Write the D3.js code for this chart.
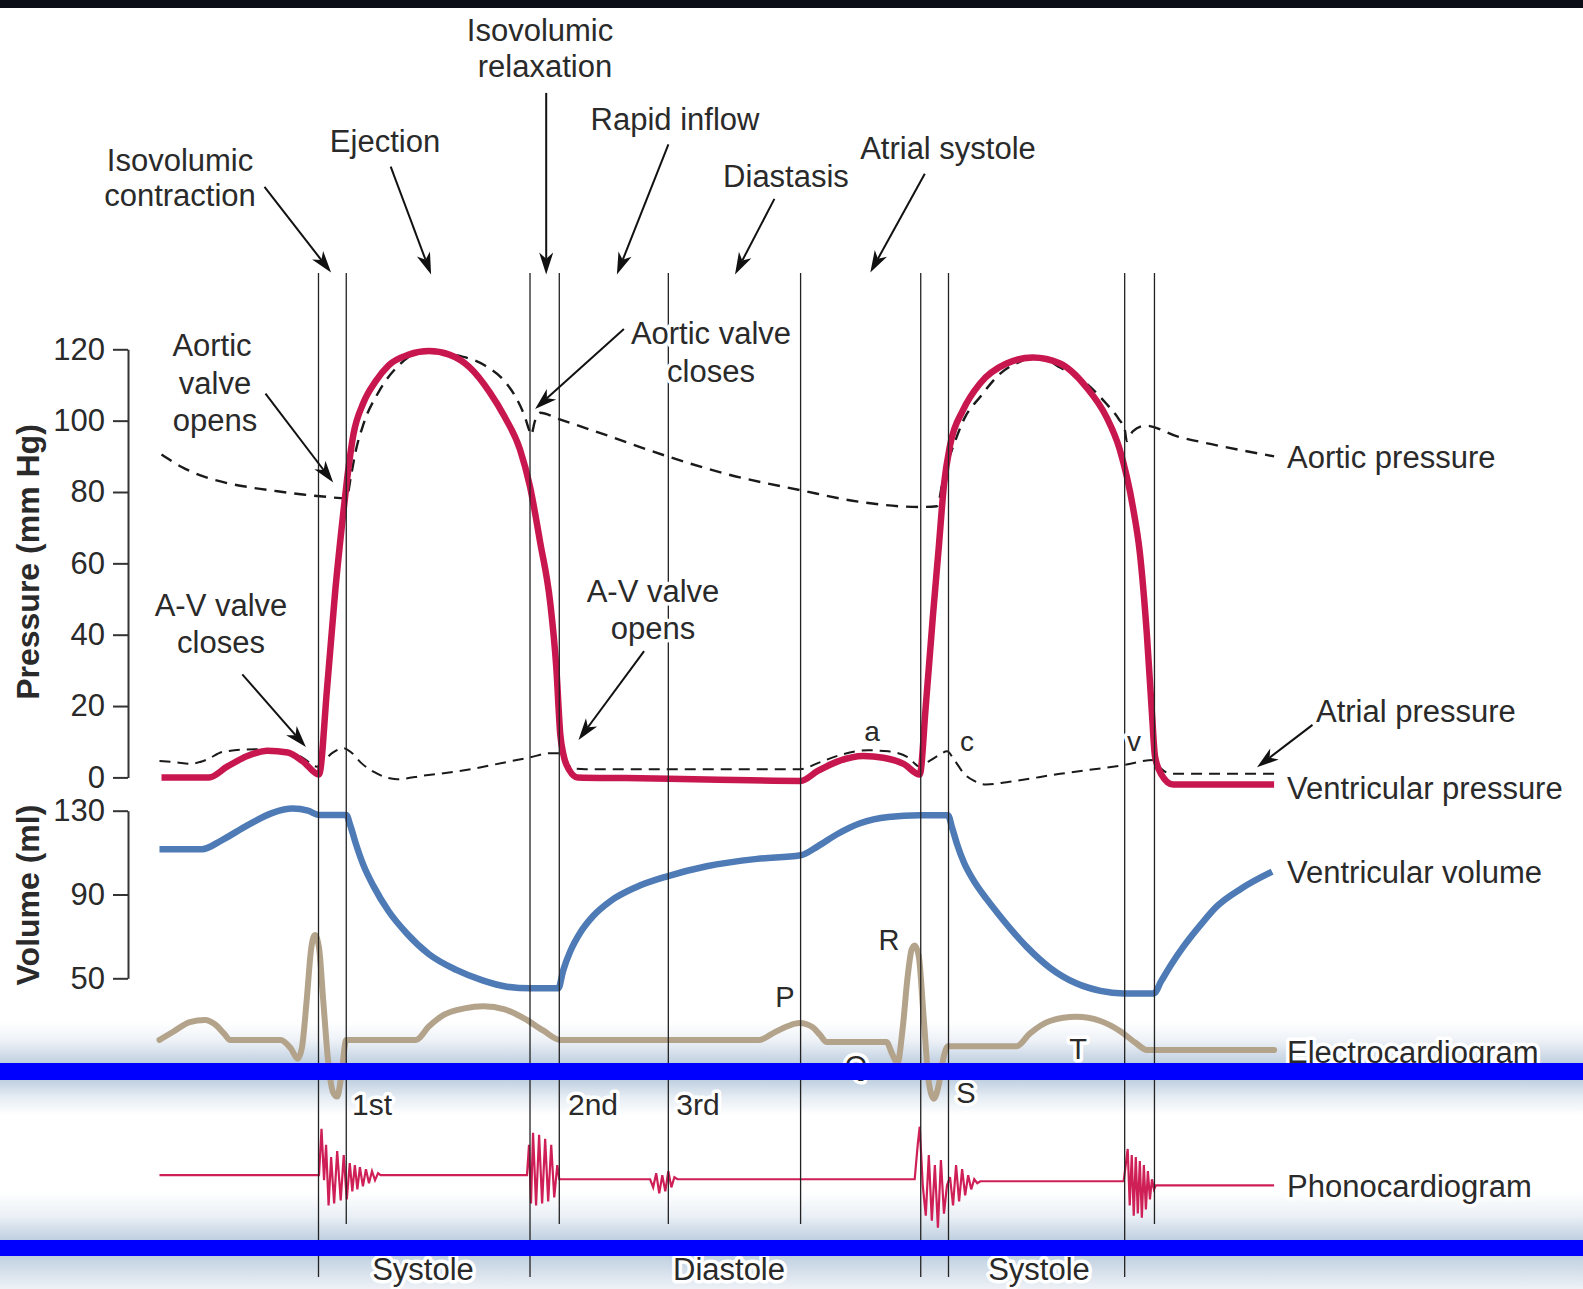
<!DOCTYPE html>
<html><head><meta charset="utf-8">
<script src="https://cdn.jsdelivr.net/npm/d3@7"></script>
<style>
body{margin:0;background:#fff;}
svg{display:block;}
text{font-family:"Liberation Sans",Arial,Helvetica,sans-serif;fill:#2a2a2a;}
</style>
</head><body>
<svg id="c" width="1583" height="1289"></svg>
<script>
// ---------- DATA (time in ms-like units from left edge of traces) ----------
const eventTimes = [155.5, 183, 365, 394, 502, 633, 752, 779.5, 954, 983.5];
const eventLong  = [true, false, true, false, false, false, true, true, true, false];

const pressureTicks = [0, 20, 40, 60, 80, 100, 120];
const volumeTicks = [50, 90, 130];

// [time, mmHg]
const ventricularPressure = [
 [0,0],[47,0],[65,3],[85,6],[105,7.5],[125,7],[140,4.5],[156,0.8],
 [164,25],[172,52],[180,74],[184,84],[190,96],[200,105],[212,111],[225,115.5],[245,118.5],[265,119.5],
 [285,118.5],[305,115],[325,108],[340,101],[355,92],[365,81.5],[375,66],[385,49],[391,31],[395,12],[398,6.5],[404,2],[412,0],
 [460,-0.2],[540,-0.6],[633,-1],
 [650,1.8],[670,4.5],[695,6],[715,5.5],[735,3.8],[751,0.8],
 [757,20],[764,45],[770,65],[775,82],[781,93],[794,103],[811,110.5],[837,116],[863,117.7],[890,116],[916,109.4],[936,101],
 [949,92],[962,76],[969,63],[976,40],[981,18],[984,6],[990,1],[1002,-2],[1102,-2]
];
const aorticPressure = [
 [0,90.5],[20,87],[40,84.5],[65,82.5],[90,81.2],[115,80.2],[140,79.3],[165,78.6],[183,78.2],
 [188,85],[192,91],[200,99],[215,108],[235,115.5],[260,119.5],[290,118.5],[320,115.5],[340,111],[352,106],[360,101],[364,97.5],
 [366,96],[370,100],[375,102.2],[393,100.5],[440,96],[501,90],[560,85],[633,80.5],[690,77.3],[751,75.8],[768,76],
 [775,85],[785,93.4],[795,100.5],[811,106.7],[830,113],[850,116.5],[870,118],[888,115.2],[910,111.8],[935,105],[948,100.5],
 [954,97.6],[956,94.3],[962,97],[975,98.6],[1006,95.6],[1040,93.4],[1102,90]
];
const atrialPressure = [
 [-2,4.6],[15,4.2],[28,3.8],[45,5],[61,7.2],[94,7.9],[124,7.2],[140,5.5],[154,3],
 [160,4.5],[170,7],[180,8.2],[188,7],[198,4],[210,1.6],[233,-0.5],[260,0.5],[300,2],[340,4.2],[365,5.6],[385,6.8],[394,6.8],
 [400,4.5],[408,2.5],[420,2.3],[633,2.3],[650,4],[675,6.5],[700,7.6],[720,7.3],[740,5.5],[751,3],
 [760,4.5],[770,6.2],[778,7.3],[785,5],[795,1],[805,-1],[817,-2],[840,-1.2],[890,1],[954,3.5],[983,4.9],
 [990,2.5],[1000,1],[1102,1]
];
// [time, ml]
const ventricularVolume = [
 [-2,111.6],[40,111.6],[60,116],[85,123],[110,129],[130,131],[145,130],[156,128],[183,128],
 [187,123],[192,115],[200,104],[210,94],[225,82],[243,71.4],[265,61.5],[292,54],[318,49],[342,46],[365,45.2],[393,45.2],
 [398,54],[405,63],[415,72],[428,80],[445,87],[470,93.5],[501,98.7],[540,103.5],[590,107],[633,108.7],
 [650,113],[670,119],[692,124],[720,127],[751,127.8],[779,127.8],
 [783,122],[788,114],[795,105],[804,97],[817,88],[830,80],[857,65],[880,55],[906,47.6],[930,44],[953,42.8],[983,42.8],
 [990,48.5],[1000,56.5],[1012,65],[1030,76],[1045,84.2],[1070,93],[1100,100.9]
];
// [time, relative ECG amplitude]
const ecg = [
 [-2,0],[12,8],[28,17],[43,19],[54,14],[62,6],[68,0],[118,0],[128,-8],[135,-18],[139,-8],[144,40],[148,85],[152,100],
 [156,88],[160,40],[165,-20],[170,-50],[174,-54],[178,-35],[183,0],[252,0],[265,13],[280,24],[300,30],[319,32],[340,29],
 [360,20],[378,9],[395,0],[592,0],[605,6],[620,13],[632,16],[645,12],[652,5],[659,-2],[718,-2],[724,-14],[729,-22],
 [734,10],[739,60],[743,86],[746,90],[750,80],[755,20],[760,-40],[765,-56],[770,-42],[775,-15],[779,-6],[847,-6],
 [860,6],[880,18],[906,22],[930,18],[950,8],[965,-3],[976,-9.6],[1102,-9.6]
];
// [time, relative sound amplitude]
const phono = [
 [-2,0],[156,0],[158.5,46],[161,-5],[163,30],[165.5,-30],[168,18],[171,-28],[174,24],[177.5,-25],[180.5,20],[183.5,-24],
 [186.5,12],[189,-16],[191.5,10],[194,-14],[196.5,8],[199.5,-11],[202.5,6],[205.5,-8],[208.5,4],[211.5,-5],[214.5,2],[217,0],
 [362,0],[364,30],[366,-28],[368,42],[371,-30],[374,40],[377,-28],[380,36],[383,-26],[386,30],[389,-22],[392,10],[394,-4],
 [484,-4],[487,-12],[490,2],[493,-18],[496,0],[499,-16],[502,4],[505,-12],[508,-2],[511,-4],
 [746,-4],[749,30],[751,48],[754,-10],[757,-40],[760,20],[763,-45],[766,10],[769,-52],[772,15],[775,-38],[778,-10],
 [781,-2],[784,-30],[787,10],[790,-26],[793,6],[796,-20],[799,0],[802,-14],[805,-4],[808,-8],[811,-6],
 [953,-6],[955,10],[957,26],[959,-30],[961,20],[963,-40],[965,18],[967,-38],[969,14],[971,-42],[973,10],[975,-34],
 [977,4],[979,-24],[981,-4],[983,-14],[985,-10],[1102,-10]
];

// ---------- LAYOUT ----------
const W = 1583, H = 1289;
const svg = d3.select("#c");
const x  = d3.scaleLinear().domain([0,1102]).range([161.5,1274.1]);
const yP = d3.scaleLinear().domain([0,120]).range([777.4,349.3]);
const yV = d3.scaleLinear().domain([50,130]).range([978.3,810.7]);
const yE = d3.scaleLinear().domain([0,100]).range([1039.9,934.9]);
const yS = d3.scaleLinear().domain([0,100]).range([1175.2,1074.2]);

const defs = svg.append("defs");
function grad(id, stops){
  const g = defs.append("linearGradient").attr("id",id).attr("x1",0).attr("y1",0).attr("x2",0).attr("y2",1);
  stops.forEach(s=>g.append("stop").attr("offset",s[0]).attr("stop-color",s[1]));
}
grad("gA",[[0,"#ffffff"],[0.45,"#eef2f7"],[1,"#c0d0e1"]]);
grad("gB",[[0,"#c0d0e1"],[0.5,"#e6edf4"],[1,"#ffffff"]]);
grad("gC",[[0,"#ffffff"],[0.5,"#eaf0f6"],[1,"#c0d0e1"]]);
grad("gD",[[0,"#c0d0e1"],[1,"#eef2f7"]]);

svg.append("rect").attr("width",W).attr("height",H).attr("fill","#fff");
svg.append("rect").attr("width",W).attr("height",8).attr("fill","#0b0e17");
svg.append("rect").attr("y",1022).attr("width",W).attr("height",41).attr("fill","url(#gA)");
svg.append("rect").attr("y",1080).attr("width",W).attr("height",35).attr("fill","url(#gB)");
svg.append("rect").attr("y",1192).attr("width",W).attr("height",48).attr("fill","url(#gC)");
svg.append("rect").attr("y",1256).attr("width",W).attr("height",33).attr("fill","url(#gD)");

// Axes
function styleAxis(g){
  g.attr("font-size",null).attr("font-family",null);
  g.select(".domain").attr("stroke","#333").attr("stroke-width",2);
  g.selectAll(".tick line").attr("stroke","#333").attr("stroke-width",2);
  g.selectAll(".tick text").attr("font-size",31).attr("fill","#333");
}
const axP = svg.append("g").attr("transform","translate(128,0)")
  .call(d3.axisLeft(yP).tickValues(pressureTicks).tickSize(15).tickSizeOuter(0).tickPadding(8));
styleAxis(axP);
const axV = svg.append("g").attr("transform","translate(128,0)")
  .call(d3.axisLeft(yV).tickValues(volumeTicks).tickSize(15).tickSizeOuter(0).tickPadding(8));
styleAxis(axV);

svg.append("text").attr("transform","translate(28,562) rotate(-90)").attr("text-anchor","middle")
  .attr("dy","0.35em").attr("font-weight","bold").attr("font-size",32).text("Pressure (mm Hg)");
svg.append("text").attr("transform","translate(28,895) rotate(-90)").attr("text-anchor","middle")
  .attr("dy","0.35em").attr("font-weight","bold").attr("font-size",32).text("Volume (ml)");

// Curves
const lineP = d3.line().x(d=>x(d[0])).y(d=>yP(d[1])).curve(d3.curveMonotoneX);
const lineV = d3.line().x(d=>x(d[0])).y(d=>yV(d[1])).curve(d3.curveMonotoneX);
const lineE = d3.line().x(d=>x(d[0])).y(d=>yE(d[1])).curve(d3.curveMonotoneX);
const lineS = d3.line().x(d=>x(d[0])).y(d=>yS(d[1]));

svg.append("path").attr("d",lineE(ecg)).attr("fill","none").attr("stroke","#b4a38b").attr("stroke-width",6)
  .attr("stroke-linejoin","round").attr("stroke-linecap","round");
svg.append("path").attr("d",lineS(phono)).attr("fill","none").attr("stroke","#cf1f57").attr("stroke-width",2.2)
  .attr("stroke-linejoin","miter");
svg.append("path").attr("d",lineV(ventricularVolume)).attr("fill","none").attr("stroke","#4e7ab6").attr("stroke-width",6.5)
  .attr("stroke-linejoin","round");
svg.append("path").attr("d",lineP(aorticPressure)).attr("fill","none").attr("stroke","#1a1a1a").attr("stroke-width",2.4)
  .attr("stroke-dasharray","12,8");
svg.append("path").attr("d",lineP(atrialPressure)).attr("fill","none").attr("stroke","#1a1a1a").attr("stroke-width",2)
  .attr("stroke-dasharray","11,7");
svg.append("path").attr("d",lineP(ventricularPressure)).attr("fill","none").attr("stroke","#c8174f").attr("stroke-width",6.5)
  .attr("stroke-linejoin","round");

// Event lines
svg.append("g").selectAll("line").data(eventTimes).join("line")
  .attr("x1",d=>x(d)).attr("x2",d=>x(d)).attr("y1",273)
  .attr("y2",(d,i)=>eventLong[i]?1277:1224)
  .attr("stroke","#222").attr("stroke-width",1.3);

// Annotation text
const halo = sel => sel.attr("stroke","#fff").attr("stroke-width",7).attr("paint-order","stroke").attr("stroke-linejoin","round");
const labels = [
 ["Isovolumic",540,30.5,"middle",31],["relaxation",545,66,"middle",31],
 ["Rapid inflow",675,119,"middle",31],["Ejection",385,141.5,"middle",31],
 ["Isovolumic",180,160,"middle",31],["contraction",180,195,"middle",31],
 ["Diastasis",786,176,"middle",31],["Atrial systole",948,148.5,"middle",31],
 ["Aortic",212,345.5,"middle",31],["valve",215,383,"middle",31],["opens",215,420,"middle",31],
 ["A-V valve",221,605,"middle",31],["closes",221,642,"middle",31],
 ["Aortic valve",711,333.5,"middle",31],["closes",711,371.5,"middle",31],
 ["A-V valve",653,591,"middle",31],["opens",653,628,"middle",31],
 ["Atrial pressure",1316,711,"start",31],
 ["Aortic pressure",1287,457.5,"start",31],
 ["Ventricular pressure",1287,788.5,"start",31],
 ["Ventricular volume",1287,872.5,"start",31],
 ["Electrocardiogram",1287,1052,"start",31],
 ["Phonocardiogram",1287,1186.5,"start",31],
 ["a",872,731,"middle",28],["c",967,741,"middle",28],["v",1134,741,"middle",28],
 ["R",889,940,"middle",29],["P",785,997,"middle",29],["Q",856,1066,"middle",29],["T",1078,1049,"middle",29],["S",966,1093,"middle",29],
 ["1st",372,1104.5,"middle",30],["2nd",593,1104.5,"middle",30],["3rd",698,1104.5,"middle",30],
 ["Systole",423,1269,"middle",31],["Diastole",729,1269,"middle",31],["Systole",1039,1269,"middle",31]
];
svg.append("g").selectAll("text").data(labels).join("text")
  .attr("x",d=>d[1]).attr("y",d=>d[2]).attr("dy","0.35em").attr("text-anchor",d=>d[3])
  .attr("font-size",d=>d[4]).text(d=>d[0]).call(halo);

// Arrows
const arrows = [
 [264.5,186.8,331.1,272.6],[390.7,166.6,431.1,274.6],[546.2,92.9,546.2,274.6],
 [668.4,144.4,616.9,274.6],[774.4,198.9,735,274.6],[924.8,173.7,870.3,272.6],
 [265.5,393.7,333.2,482.6],[242.3,674.4,305.9,747.1],[623.9,329.1,535.1,408.9],
 [644.1,651.2,578.5,740],[1312.5,724.9,1257,767.3]
];
const ag = svg.append("g");
arrows.forEach(a=>{
  const [x1,y1,x2,y2]=a, dx=x2-x1, dy=y2-y1, L=Math.hypot(dx,dy), ux=dx/L, uy=dy/L, px=-uy, py=ux;
  const hl=22, hw=7;
  const nx=x2-ux*hl*0.72, ny=y2-uy*hl*0.72;
  ag.append("line").attr("x1",x1).attr("y1",y1).attr("x2",nx).attr("y2",ny).attr("stroke","#111").attr("stroke-width",2);
  ag.append("path").attr("d",`M${x2},${y2}L${x2-ux*hl+px*hw},${y2-uy*hl+py*hw}L${nx},${ny}L${x2-ux*hl-px*hw},${y2-uy*hl-py*hw}Z`).attr("fill","#111");
});

// Blue bars on top
svg.append("rect").attr("y",1063).attr("width",W).attr("height",17).attr("fill","#0000ff");
svg.append("rect").attr("y",1240).attr("width",W).attr("height",16).attr("fill","#0000ff");
</script>
</body></html>
